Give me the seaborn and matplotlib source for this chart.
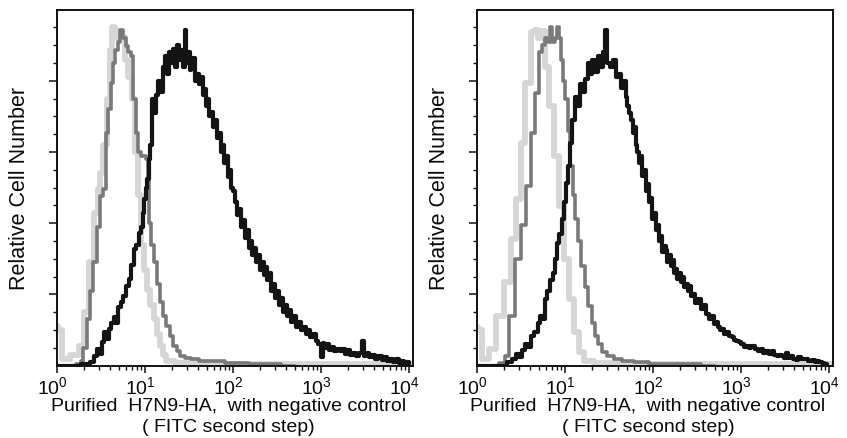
import numpy as np
import seaborn as sns
import matplotlib.pyplot as plt
import matplotlib.transforms as mtransforms
from matplotlib.ticker import FixedLocator, LogLocator, NullFormatter

# ---- data (x = fluorescence, y = relative count 0-5) ----
# left panel
neg_x_a = [1.0, 1.05, 1.22, 1.6, 1.9, 2.16, 2.46, 2.8, 2.93, 3.1, 3.48, 3.8, 4.15, 4.3, 4.7,
           5.1, 5.5, 6.15, 6.7, 7.25, 8.0, 8.6, 9.1, 10.0, 10.8, 12.0, 12.9, 14.0, 15.3, 16.5,
           18.1, 25, 60, 200, 1000, 5000, 11000]
neg_y_a = [0.56, 0.5, 0.1, 0.15, 0.28, 0.75, 1.45, 2.15, 2.48, 2.7, 3.1, 3.74, 4.44, 4.75, 4.6,
           4.7, 4.62, 4.3, 4.05, 3.74, 3.0, 2.4, 1.7, 1.35, 1.07, 0.85, 0.65, 0.45, 0.28, 0.15,
           0.06, 0.04, 0.03, 0.03, 0.03, 0.03, 0.03]

ctl_x_a = [1.0, 1.5, 1.8, 1.9, 2.05, 2.25, 2.45, 2.68, 2.95, 3.2, 3.48, 3.64, 3.9, 4.15, 4.45,
           4.7, 5.0, 5.4, 5.75, 6.15, 6.6, 7.0, 7.6, 8.0, 8.5, 9.2, 9.9, 10.4, 10.8, 11.3, 12.1,
           12.9, 14.0, 15.3, 16.6, 18.1, 19.8, 21.8, 24, 26, 30, 36.7, 45, 62, 100, 200, 500]
ctl_y_a = [0.0, 0.0, 0.03, 0.07, 0.25, 0.65, 1.05, 1.45, 1.95, 2.38, 2.48, 3.27, 3.6, 3.97, 4.25,
           4.44, 4.55, 4.72, 4.6, 4.49, 4.4, 4.35, 3.74, 3.27, 3.0, 2.95, 2.94, 2.9, 2.6, 2.0, 1.7,
           1.45, 1.15, 0.9, 0.7, 0.56, 0.42, 0.28, 0.2, 0.14, 0.11, 0.09, 0.07, 0.06, 0.04, 0.02, 0.0]

ha_a = [(1.0, 0.0), (1.5, 0.0), (2.2, 0.02), (2.46, 0.05), (2.7, 0.14), (2.93, 0.23), (3.1, 0.16),
        (3.3, 0.33), (3.48, 0.47), (3.7, 0.38), (3.97, 0.52), (4.2, 0.6), (4.5, 0.68), (4.8, 0.6),
        (5.1, 0.82), (5.4, 0.89), (5.8, 0.98), (6.2, 1.12), (6.7, 1.22), (7.2, 1.42), (7.6, 1.64),
        (8.2, 1.7), (8.6, 1.87), (9.1, 1.95), (9.5, 2.15), (9.9, 2.34), (10.3, 2.5), (10.7, 2.62),
        (11.2, 2.9), (11.6, 3.1), (12.2, 3.74), (12.8, 3.55), (13.5, 3.8), (14.3, 4.0),
        (15.4, 3.85), (16.3, 4.2), (17.2, 4.35), (18.2, 4.1), (19.2, 4.4), (20.2, 4.25),
        (21.3, 4.45), (22.5, 4.2), (23.8, 4.5), (25, 4.3), (26.2, 4.44), (27.6, 4.2),
        (28.6, 4.72), (29.6, 4.25), (31, 4.4), (32.5, 4.15), (33.6, 4.2), (35.5, 4.32),
        (37.5, 4.0), (40, 4.1), (42, 3.95), (44, 4.05), (46, 3.8), (47.6, 3.88), (50, 3.65),
        (52, 3.75), (54, 3.5), (57, 3.56), (60, 3.35), (64, 3.45), (67, 3.2), (70, 3.27),
        (73, 3.0), (76, 3.1), (80, 2.85), (84, 2.95), (88, 2.65), (93, 2.75), (97, 2.5),
        (102, 2.45), (107, 2.3), (113, 2.12), (118, 2.2), (125, 1.95), (132, 2.05), (138, 1.8),
        (145, 1.9), (152, 1.65), (160, 1.75), (168, 1.55), (176, 1.65), (185, 1.45), (195, 1.55),
        (205, 1.35), (215, 1.45), (226, 1.28), (238, 1.38), (250, 1.2), (262, 1.3), (275, 1.05),
        (290, 1.15), (305, 0.95), (320, 1.05), (336, 0.85), (355, 0.95), (375, 0.75), (395, 0.85),
        (415, 0.7), (440, 0.78), (465, 0.62), (495, 0.7), (525, 0.55), (560, 0.62), (600, 0.5),
        (640, 0.55), (680, 0.44), (725, 0.5), (775, 0.4), (830, 0.45), (890, 0.35), (955, 0.3),
        (1020, 0.12), (1060, 0.32), (1100, 0.25), (1180, 0.3), (1260, 0.22), (1350, 0.26),
        (1450, 0.2), (1550, 0.24), (1660, 0.2), (1780, 0.23), (1900, 0.16), (2050, 0.22),
        (2200, 0.15), (2400, 0.18), (2600, 0.14), (2800, 0.18), (2950, 0.35), (3100, 0.14),
        (3350, 0.18), (3600, 0.12), (3900, 0.15), (4200, 0.1), (4650, 0.14), (5000, 0.08),
        (5400, 0.12), (5800, 0.07), (6300, 0.1), (6800, 0.05), (7300, 0.09), (7900, 0.04),
        (8500, 0.06), (9000, 0.03), (9600, 0.05), (10000, 0.02)]

# right panel
neg_x_b = [1.0, 1.05, 1.2, 1.5, 1.8, 2.23, 2.54, 2.92, 3.3, 3.75, 4.3, 4.7, 5.1, 5.6, 6.1, 6.9,
           7.8, 9.0, 10.3, 11.7, 13.3, 15.1, 17.3, 25, 60, 200, 1000, 5000, 11000]
neg_y_b = [0.54, 0.5, 0.1, 0.23, 0.7, 1.17, 1.78, 2.34, 3.13, 3.97, 4.68, 4.72, 4.6, 4.7, 4.2,
           3.65, 2.95, 2.24, 1.5, 0.94, 0.47, 0.19, 0.06, 0.04, 0.03, 0.03, 0.03, 0.03, 0.03]

ctl_x_b = [1.0, 1.6, 1.95, 2.14, 2.44, 2.92, 3.3, 3.86, 4.2, 4.8, 5.3, 5.7, 6.1, 6.5, 6.9, 7.3,
           7.8, 8.3, 8.7, 9.0, 9.6, 10.3, 11.0, 11.7, 12.5, 13.3, 14.5, 15.9, 17.4, 19.0, 20.7,
           22.6, 24.6, 27, 32, 39, 50, 70, 108, 200, 500]
ctl_y_b = [0.0, 0.0, 0.04, 0.14, 0.7, 1.5, 1.97, 2.52, 3.27, 3.83, 4.4, 4.5, 4.6, 4.55, 4.75,
           4.55, 4.6, 4.75, 4.6, 4.3, 4.0, 3.74, 3.3, 2.8, 2.4, 2.06, 1.75, 1.4, 1.1, 0.84,
           0.6, 0.42, 0.3, 0.19, 0.13, 0.09, 0.07, 0.05, 0.03, 0.02, 0.0]

ha_b = [(1.0, 0.0), (2.0, 0.0), (2.33, 0.05), (2.6, 0.1), (2.9, 0.17), (3.1, 0.12), (3.3, 0.22),
        (3.6, 0.3), (3.9, 0.26), (4.2, 0.42), (4.7, 0.47), (5.0, 0.6), (5.4, 0.7), (5.7, 0.65),
        (6.0, 0.93), (6.5, 1.05), (7.0, 1.2), (7.4, 1.3), (7.8, 1.5), (8.3, 1.72), (8.8, 1.85),
        (9.4, 2.06), (9.9, 2.3), (10.3, 2.57), (11.0, 2.8), (11.7, 3.13), (12.4, 3.45),
        (13.3, 3.78), (14.2, 3.65), (15.2, 3.95), (16.3, 3.85), (17.3, 4.02), (18.5, 4.25),
        (19.7, 4.1), (21, 4.3), (22.5, 4.12), (24, 4.35), (25.7, 4.2), (27.3, 4.4), (29, 4.72),
        (31, 4.25), (33.6, 4.2), (36, 4.3), (38.5, 4.05), (41.5, 4.1), (45, 3.9), (47, 4.0),
        (49.6, 3.78), (52, 3.65), (54, 3.55), (57, 3.45), (59, 3.27), (62, 3.35), (64, 3.1),
        (67, 3.0), (70, 2.85), (73, 2.95), (76.7, 2.66), (80, 2.75), (83, 2.45), (87, 2.55),
        (90, 2.3), (95, 2.35), (100, 2.06), (104, 2.15), (108, 1.9), (113, 1.98), (118, 1.75),
        (124, 1.82), (129, 1.59), (135, 1.68), (140, 1.62), (147, 1.45), (155, 1.55), (162, 1.4),
        (170, 1.48), (176, 1.3), (183, 1.36), (191, 1.22), (200, 1.3), (210, 1.18), (220, 1.25),
        (230, 1.1), (240, 1.15), (250, 1.05), (258, 1.12), (272, 0.98), (290, 1.0), (310, 0.88),
        (336, 0.94), (360, 0.8), (385, 0.85), (410, 0.72), (440, 0.65), (470, 0.7), (500, 0.58),
        (530, 0.62), (560, 0.55), (590, 0.5), (620, 0.52), (660, 0.45), (700, 0.48), (750, 0.42),
        (800, 0.4), (850, 0.36), (900, 0.35), (960, 0.33), (1030, 0.3), (1100, 0.26),
        (1180, 0.28), (1250, 0.25), (1350, 0.27), (1480, 0.23), (1600, 0.2), (1700, 0.23),
        (1850, 0.18), (2000, 0.2), (2150, 0.16), (2300, 0.2), (2450, 0.15), (2600, 0.13),
        (2800, 0.15), (2960, 0.14), (3150, 0.11), (3300, 0.18), (3500, 0.11), (3700, 0.13),
        (4000, 0.1), (4300, 0.08), (4600, 0.12), (4900, 0.09), (5200, 0.1), (5500, 0.09),
        (5850, 0.07), (6200, 0.06), (6600, 0.08), (7000, 0.05), (7400, 0.06), (7900, 0.05),
        (8400, 0.04), (8800, 0.03), (9400, 0.02)]

xticks = [1, 10, 100, 1000, 10000]
xticklabels = ["$10^0$", "$10^1$", "$10^2$", "$10^3$", "$10^4$"]

sns.set_style("ticks")
plt.rcParams["font.family"] = ["Liberation Sans", "DejaVu Sans"]
plt.rcParams["mathtext.fontset"] = "custom"
plt.rcParams["mathtext.rm"] = "Liberation Sans"
plt.rcParams["mathtext.default"] = "regular"
plt.rcParams["text.color"] = "#0a0a0a"
plt.rcParams["axes.labelcolor"] = "#0a0a0a"
plt.rcParams["xtick.labelcolor"] = "#0a0a0a"

fig = plt.figure(figsize=(8.47, 4.39), dpi=100)
ax1 = fig.add_axes([0.0677, 0.1647, 0.42, 0.811])
ax2 = fig.add_axes([0.5635, 0.1647, 0.42, 0.811])

panels = [
    (ax1, neg_x_a, neg_y_a, ctl_x_a, ctl_y_a, ha_a),
    (ax2, neg_x_b, neg_y_b, ctl_x_b, ctl_y_b, ha_b),
]

for ax, nx, ny, cx, cy, ha in panels:
    hx = [p[0] for p in ha]
    hy = [p[1] for p in ha]
    sns.lineplot(x=nx, y=ny, ax=ax, color="#d6d6d6", lw=4.2, drawstyle="steps-mid")
    sns.lineplot(x=cx, y=cy, ax=ax, color="#7a7a7a", lw=2.6, drawstyle="steps-mid")
    sns.lineplot(x=hx, y=hy, ax=ax, color="#141414", lw=3.0, drawstyle="steps-mid")

    ax.set_xscale("log")
    ax.set_xlim(1, 11000)
    ax.set_ylim(0, 5)

    for s in ax.spines.values():
        s.set_visible(True)
        s.set_linewidth(1.4)
        s.set_color("#111111")

    ax.set_xticks(xticks)
    ax.set_xticklabels(xticklabels, fontsize=14, color="#0a0a0a")
    ax.xaxis.set_minor_locator(LogLocator(base=10, subs=np.arange(2, 10)))
    ax.xaxis.set_minor_formatter(NullFormatter())
    ax.tick_params(axis="x", which="major", length=5, width=1.1, pad=2, color="#111111")
    ax.tick_params(axis="x", which="minor", length=3, width=1.0, color="#111111")

    ax.yaxis.set_major_locator(FixedLocator([1, 2, 3, 4]))
    ax.yaxis.set_minor_locator(FixedLocator([v / 4 for v in range(1, 20) if v % 4]))
    ax.set_yticklabels([])
    ax.tick_params(axis="y", which="major", length=6, width=1.1, color="#111111")
    ax.tick_params(axis="y", which="minor", length=2.8, width=1.0, color="#111111")

    ax.set_ylabel("Relative Cell Number", fontsize=15.5, color="#0a0a0a")
    ax.yaxis.set_label_coords(-0.105, 0.5, transform=ax.transAxes)
    ax.yaxis.label.set_va("center")

    ax.set_xlabel("Purified  H7N9-HA,  with negative control\n( FITC second step)",
                  fontsize=14, linespacing=1.3, color="#0a0a0a")
    ax.xaxis.set_label_coords(0.48, -0.089, transform=ax.transAxes)
    ax.xaxis.label.set_va("top")

    shift = mtransforms.ScaledTranslation(-5 / 100, 0, fig.dpi_scale_trans)
    for lab in ax.get_xticklabels():
        lab.set_transform(lab.get_transform() + shift)

fig.savefig("out.png", dpi=100)
